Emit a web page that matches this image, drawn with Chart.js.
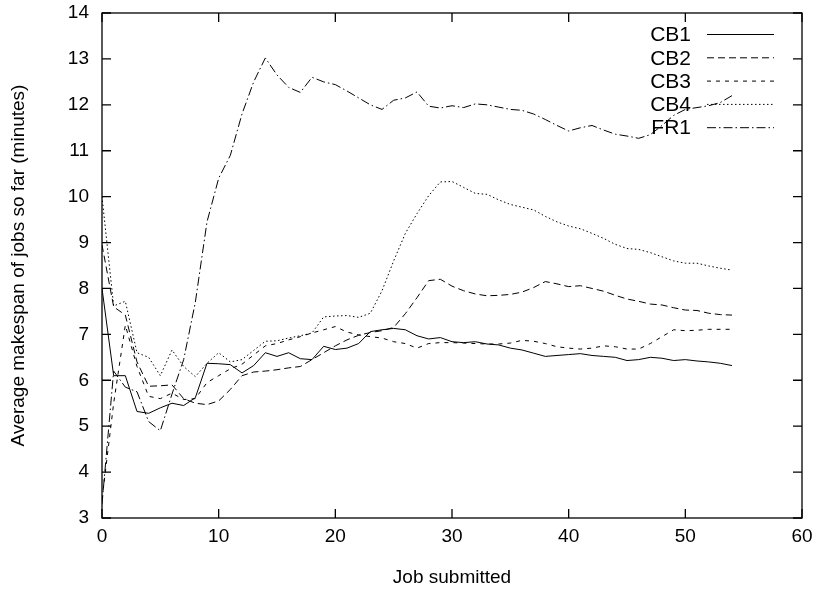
<!DOCTYPE html>
<html>
<head>
<title>Average makespan of jobs</title>
<script src="https://cdn.jsdelivr.net/npm/chart.js"></script>
<style>
  body { margin: 0; background: #fff; }
</style>
</head>
<body>
<canvas id="plot" width="821" height="592"></canvas>
<script>
// job index (x)
const jobs = [0, 1, 2, 3, 4, 5, 6, 7, 8, 9,
  10, 11, 12, 13, 14, 15, 16, 17, 18, 19,
  20, 21, 22, 23, 24, 25, 26, 27, 28, 29,
  30, 31, 32, 33, 34, 35, 36, 37, 38, 39,
  40, 41, 42, 43, 44, 45, 46, 47, 48, 49,
  50, 51, 52, 53, 54];

// average makespan so far (minutes)
const cb1 = [8.0, 6.1, 6.1, 5.32, 5.28, 5.4, 5.5, 5.45, 5.62, 6.37,
  6.36, 6.34, 6.16, 6.32, 6.6, 6.52, 6.6, 6.47, 6.45, 6.74,
  6.67, 6.7, 6.8, 7.06, 7.1, 7.13, 7.1, 6.97, 6.9, 6.93,
  6.84, 6.82, 6.84, 6.79, 6.77, 6.7, 6.66, 6.59, 6.52, 6.54,
  6.56, 6.58, 6.54, 6.52, 6.5, 6.43, 6.45, 6.5, 6.48, 6.43,
  6.45, 6.42, 6.4, 6.37, 6.32];
const cb2 = [8.95, 7.6, 7.42, 6.4, 5.87, 5.88, 5.9, 5.6, 5.5, 5.47,
  5.55, 5.8, 6.1, 6.18, 6.2, 6.23, 6.27, 6.3, 6.45, 6.6,
  6.75, 6.88, 6.98, 7.04, 7.08, 7.15, 7.45, 7.8, 8.17, 8.2,
  8.05, 7.95, 7.88, 7.84, 7.85, 7.87, 7.92, 8.02, 8.15, 8.1,
  8.04, 8.06, 8.0, 7.94, 7.85, 7.77, 7.72, 7.66, 7.64, 7.58,
  7.53, 7.52, 7.46, 7.43, 7.42];
const cb3 = [3.4, 5.5, 7.2, 6.3, 5.65, 5.6, 5.72, 5.58, 5.6, 5.95,
  6.1, 6.25, 6.35, 6.55, 6.75, 6.8, 6.88, 6.95, 7.03, 7.1,
  7.17, 7.05, 6.99, 6.95, 6.92, 6.84, 6.8, 6.7, 6.8, 6.82,
  6.82, 6.81, 6.8, 6.79, 6.79, 6.81, 6.87, 6.85, 6.8, 6.73,
  6.7, 6.68, 6.7, 6.75, 6.73, 6.68, 6.68, 6.8, 6.95, 7.1,
  7.08, 7.09, 7.11, 7.11, 7.11];
const cb4 = [10.0, 7.62, 7.72, 6.6, 6.5, 6.1, 6.66, 6.3, 6.08, 6.37,
  6.6, 6.4, 6.45, 6.65, 6.85, 6.86, 6.92, 6.97, 7.03, 7.38,
  7.4, 7.41, 7.37, 7.46, 7.95, 8.6, 9.2, 9.63, 10.02, 10.32,
  10.33, 10.2, 10.07, 10.05, 9.93, 9.83, 9.77, 9.71, 9.57, 9.45,
  9.36, 9.3, 9.2, 9.09, 8.96, 8.87, 8.85, 8.78, 8.69, 8.6,
  8.55, 8.55, 8.49, 8.44, 8.4];
const fr1 = [3.3, 6.2, 5.85, 5.75, 5.1, 4.9, 5.7, 6.45, 7.7, 9.45,
  10.4, 10.9, 11.8, 12.5, 13.02, 12.65, 12.38, 12.27, 12.6, 12.5,
  12.44, 12.3, 12.15, 12.0, 11.9, 12.1, 12.15, 12.28, 11.97, 11.93,
  11.98, 11.94, 12.02, 12.0, 11.95, 11.9, 11.88, 11.8, 11.68, 11.55,
  11.43, 11.5, 11.55, 11.45, 11.36, 11.32, 11.27, 11.35, 11.55, 11.77,
  11.9, 11.94, 11.98, 12.05, 12.2];

const seriesNames = ['CB1', 'CB2', 'CB3', 'CB4', 'FR1'];
const seriesValues = [cb1, cb2, cb3, cb4, fr1];
const xTicks = [0, 10, 20, 30, 40, 50, 60];
const yTicks = [3, 4, 5, 6, 7, 8, 9, 10, 11, 12, 13, 14];

const FONT = '"Liberation Sans", Arial, Helvetica, sans-serif';
const FS = 19;
// gnuplot-like line types: solid, long dash, short dash, dots, dash-dot
const dashes = [[], [7, 4], [4, 5], [1.5, 2.5], [9, 3, 1.5, 3]];

// full frame with ticks pointing inward on every side
const framePlugin = {
  id: 'frame',
  afterDatasetsDraw(chart) {
    const { ctx, chartArea: a, scales } = chart;
    ctx.save();
    ctx.strokeStyle = '#000';
    ctx.lineWidth = 1.3;
    ctx.setLineDash([]);
    ctx.strokeRect(a.left, a.top, a.right - a.left, a.bottom - a.top);
    ctx.beginPath();
    xTicks.forEach(v => {
      const px = scales.x.getPixelForValue(v);
      ctx.moveTo(px, a.bottom); ctx.lineTo(px, a.bottom - 9);
      ctx.moveTo(px, a.top); ctx.lineTo(px, a.top + 9);
    });
    yTicks.forEach(v => {
      const py = scales.y.getPixelForValue(v);
      ctx.moveTo(a.left, py); ctx.lineTo(a.left + 9, py);
      ctx.moveTo(a.right, py); ctx.lineTo(a.right - 9, py);
    });
    ctx.stroke();
    ctx.restore();
  }
};

// key in the top right corner: label right-aligned, line sample after it
const keyPlugin = {
  id: 'key',
  afterDatasetsDraw(chart) {
    const ctx = chart.ctx;
    ctx.save();
    ctx.font = '21px ' + FONT;
    ctx.fillStyle = '#000';
    ctx.textAlign = 'right';
    ctx.textBaseline = 'middle';
    chart.data.datasets.forEach((ds, i) => {
      const y = 34.5 + i * 23.3;
      ctx.fillText(ds.label, 691, y + 1);
      ctx.beginPath();
      ctx.setLineDash(ds.borderDash);
      ctx.strokeStyle = '#000';
      ctx.lineWidth = 1;
      ctx.moveTo(707, y);
      ctx.lineTo(774, y);
      ctx.stroke();
    });
    ctx.restore();
  }
};

new Chart(document.getElementById('plot'), {
  type: 'line',
  data: {
    datasets: seriesNames.map((name, i) => ({
      label: name,
      data: jobs.map((j, k) => ({ x: j, y: seriesValues[i][k] })),
      borderColor: '#000',
      borderWidth: 1,
      borderDash: dashes[i],
      pointRadius: 0,
      tension: 0,
      fill: false
    }))
  },
  options: {
    responsive: false,
    animation: false,
    devicePixelRatio: 1,
    layout: { padding: { top: 13, right: 19, left: 0, bottom: 0 } },
    plugins: { legend: { display: false }, tooltip: { enabled: false } },
    scales: {
      x: {
        type: 'linear',
        min: 0,
        max: 60,
        afterBuildTicks: s => { s.ticks = xTicks.map(v => ({ value: v })); },
        afterFit: s => { s.height = 74; s.paddingLeft = 0; s.paddingRight = 0; },
        grid: { display: false, drawTicks: false },
        border: { display: false },
        ticks: { color: '#000', font: { family: FONT, size: FS }, padding: 7, maxRotation: 0 },
        title: { display: true, text: 'Job submitted', color: '#000',
                 font: { family: FONT, size: FS }, padding: { top: 0, bottom: 3 } }
      },
      y: {
        type: 'linear',
        min: 3,
        max: 14,
        afterBuildTicks: s => { s.ticks = yTicks.map(v => ({ value: v })); },
        afterFit: s => { s.width = 102; s.paddingTop = 0; s.paddingBottom = 0; },
        grid: { display: false, drawTicks: false },
        border: { display: false },
        ticks: { color: '#000', font: { family: FONT, size: FS }, padding: 13 },
        title: { display: true, text: 'Average makespan of jobs so far (minutes)', color: '#000',
                 font: { family: FONT, size: FS }, padding: { top: 7, bottom: 0 } }
      }
    }
  },
  plugins: [framePlugin, keyPlugin]
});
</script>
</body>
</html>
